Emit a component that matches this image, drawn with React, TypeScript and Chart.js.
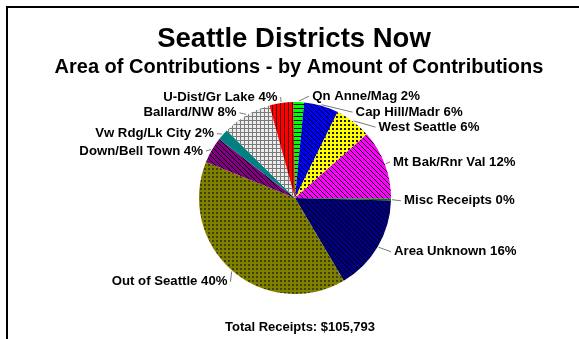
import { useEffect, useRef } from "react";
import { Chart, registerables } from "chart.js";

Chart.register(...registerables);

// ---------- data ----------
const districts = [
  "Qn Anne/Mag",
  "Cap Hill/Madr",
  "West Seattle",
  "Mt Bak/Rnr Val",
  "Misc Receipts",
  "Area Unknown",
  "Out of Seattle",
  "Down/Bell Town",
  "Vw Rdg/Lk City",
  "Ballard/NW",
  "U-Dist/Gr Lake",
];
const shares = [1.8, 5.8, 6.1, 11.7, 0.3, 16.1, 39.6, 4.4, 1.9, 8.3, 4.0];

const titleText = "Seattle Districts Now";
const subtitleText = "Area of Contributions - by Amount of Contributions";
const footerText = "Total Receipts: $105,793";

// ---------- styles ----------
const baseColors = [
  "#00ff00",
  "#0000ff",
  "#ffff00",
  "#ff00ff",
  "#008000",
  "#000080",
  "#808000",
  "#800080",
  "#008080",
  "#ececec",
  "#ff0000",
];
const patternKinds = [
  "hlines",
  "diag",
  "dots",
  "diag",
  "solid",
  "diag",
  "dots",
  "diag",
  "solid",
  "grid",
  "vlines",
];
const inkColors = [
  "#000000",
  "#000000",
  "#202000",
  "#000000",
  "#000000",
  "#000000",
  "#404000",
  "#000000",
  "#000000",
  "#7a7a7a",
  "#500000",
];
// label layout nudges (dx, dy) from the automatic anchor just outside each slice
const labelNudges = [
  [13, 6],
  [31, 18],
  [18, 15],
  [-3, 2],
  [1, 1],
  [6, -1],
  [3, 2],
  [1.5, 7],
  [0, 7],
  [-4, 8],
  [-2, 6],
];

const FONT = '"Liberation Sans", Arial, Helvetica, sans-serif';

function makePattern(kind: string, bg: string, ink: string): string | CanvasPattern {
  if (kind === "solid") return bg;
  const size = kind === "diag" ? 5 : 4;
  const c = document.createElement("canvas");
  c.width = size;
  c.height = size;
  const g = c.getContext("2d")!;
  g.fillStyle = bg;
  g.fillRect(0, 0, size, size);
  g.fillStyle = ink;
  switch (kind) {
    case "hlines":
      g.fillRect(0, 0, size, 1);
      break;
    case "vlines":
      g.fillRect(0, 0, 1, size);
      break;
    case "diag":
      for (let i = 0; i < size; i++) g.fillRect(i, i, 1, 1);
      break;
    case "dots":
      g.fillRect(0, 0, 2, 2);
      break;
    case "grid":
      g.fillRect(0, 0, size, 1);
      g.fillRect(0, 0, 1, size);
      break;
  }
  return g.createPattern(c, "repeat") || bg;
}

const overlayPlugin = {
  id: "overlay",
  afterDraw(chart: any) {
    const ctx: CanvasRenderingContext2D = chart.ctx;
    ctx.save();
    // frame
    ctx.strokeStyle = "#000";
    ctx.lineWidth = 2;
    ctx.beginPath();
    ctx.moveTo(7, 400);
    ctx.lineTo(7, 7);
    ctx.lineTo(700, 7);
    ctx.stroke();

    // titles
    ctx.fillStyle = "#000";
    ctx.textAlign = "center";
    ctx.textBaseline = "alphabetic";
    ctx.font = `bold 27.5px ${FONT}`;
    ctx.fillText(titleText, 294, 47);
    ctx.font = `bold 20px ${FONT}`;
    ctx.fillText(subtitleText, 299, 73);
    ctx.font = `bold 13px ${FONT}`;
    ctx.fillText(footerText, 300, 331);

    // slice labels with leader lines
    const meta = chart.getDatasetMeta(0);
    const total = shares.reduce((a, b) => a + b, 0);
    ctx.font = `bold 13.2px ${FONT}`;
    meta.data.forEach((arc: any, i: number) => {
      const p = arc.getProps(["x", "y", "startAngle", "endAngle", "outerRadius"], true);
      const mid = (p.startAngle + p.endAngle) / 2;
      const cos = Math.cos(mid);
      const sin = Math.sin(mid);
      const right = cos >= 0;
      const ax = p.x + (p.outerRadius + 12) * cos + labelNudges[i][0];
      const ay = p.y + (p.outerRadius + 12) * sin + labelNudges[i][1];
      const ex = p.x + (p.outerRadius + 1) * cos;
      const ey = p.y + (p.outerRadius + 1) * sin;
      const lx = right ? ax - 3 : ax + 3;
      ctx.strokeStyle = "#7a7a7a";
      ctx.lineWidth = 1;
      ctx.beginPath();
      ctx.moveTo(ex, ey);
      ctx.lineTo(lx, ay);
      ctx.stroke();
      ctx.fillStyle = "#000";
      ctx.textAlign = right ? "left" : "right";
      ctx.textBaseline = "middle";
      const pct = Math.round((shares[i] / total) * 100);
      ctx.fillText(`${districts[i]} ${pct}%`, ax, ay);
    });
    ctx.restore();
  },
};

export default function App() {
  const canvasRef = useRef<HTMLCanvasElement | null>(null);

  useEffect(() => {
    const canvas = canvasRef.current;
    if (!canvas) return;
    const fills = shares.map((_, i) => makePattern(patternKinds[i], baseColors[i], inkColors[i]));
    const chart = new Chart(canvas, {
      type: "pie",
      data: {
        labels: districts,
        datasets: [
          {
            data: shares,
            backgroundColor: fills as any,
            borderWidth: 0,
          },
        ],
      },
      options: {
        responsive: false,
        animation: false,
        devicePixelRatio: 1,
        rotation: -1,
        layout: { padding: { left: 199, right: 188, top: 102, bottom: 45 } },
        plugins: {
          legend: { display: false },
          tooltip: { enabled: false },
          title: { display: false },
        },
      },
      plugins: [overlayPlugin],
    });
    return () => chart.destroy();
  }, []);

  return (
    <div style={{ position: "fixed", left: 0, top: 0, width: 579, height: 339, background: "#fff" }}>
      <canvas ref={canvasRef} width={579} height={339} style={{ width: 579, height: 339 }} />
    </div>
  );
}
